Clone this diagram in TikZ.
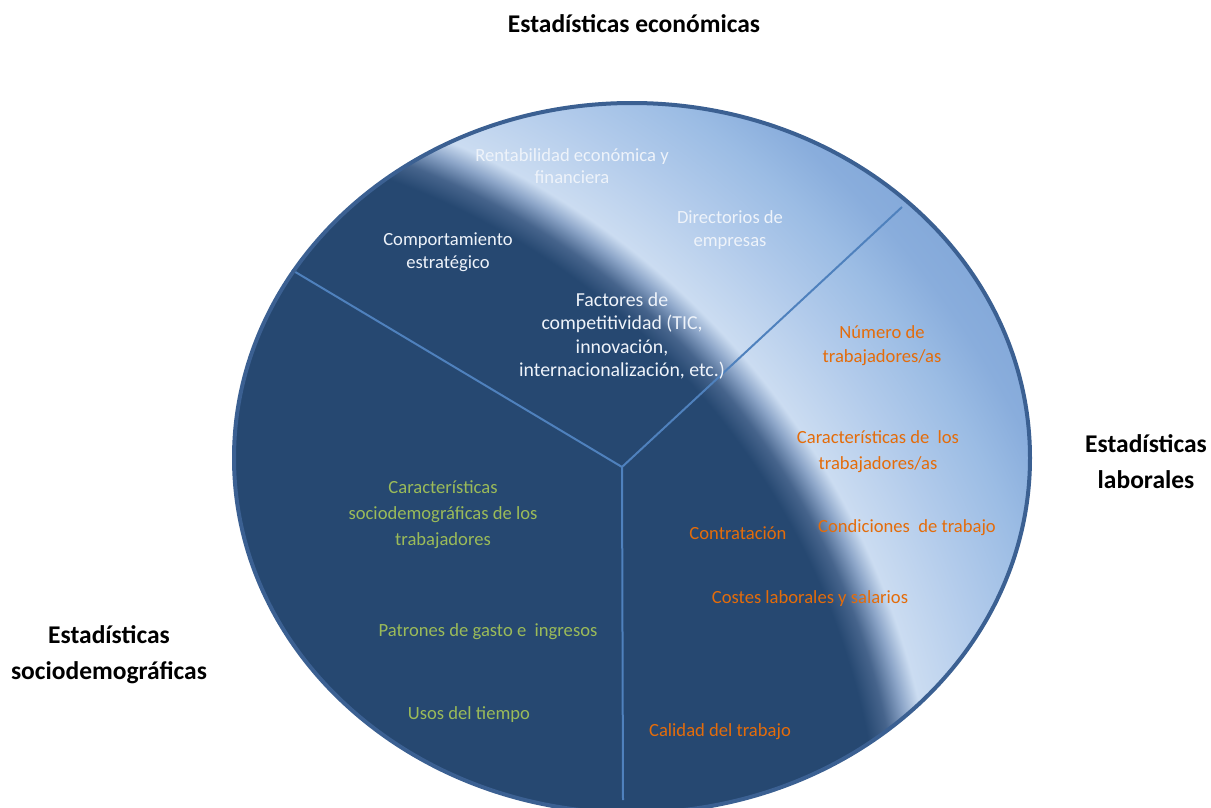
\documentclass[tikz,border=0pt]{standalone}
\usepackage{fontspec}
\setmainfont{Carlito}
\definecolor{dkblue}{RGB}{38,72,113}
\definecolor{midA}{RGB}{70,100,140}
\definecolor{midB}{RGB}{140,165,200}
\definecolor{ltblue}{RGB}{203,220,241}
\definecolor{ltB}{RGB}{178,203,235}
\definecolor{ltC}{RGB}{155,188,228}
\definecolor{ltD}{RGB}{137,173,220}
\definecolor{ltE}{RGB}{127,165,215}
\definecolor{rimblue}{RGB}{59,96,146}
\definecolor{divblue}{RGB}{79,129,189}
\definecolor{txtwhite}{RGB}{238,243,250}
\definecolor{txtorange}{RGB}{228,108,10}
\definecolor{txtgreen}{RGB}{155,187,89}
\pgfdeclareradialshading{bandshade}{\pgfpoint{0bp}{0bp}}{%
color(0bp)=(dkblue); color(16.30bp)=(dkblue); color(16.74bp)=(midA);
color(17.17bp)=(midB); color(17.55bp)=(ltblue); color(19.13bp)=(ltB);
color(20.65bp)=(ltC); color(21.74bp)=(ltD); color(23.5bp)=(ltE); color(50bp)=(ltE)}
\tikzset{
  lbl/.style={font=\fontsize{18.6}{23.5}\selectfont, align=center, inner sep=0pt},
  wt/.style={lbl, text=txtwhite},
  org/.style={lbl, text=txtorange},
  grn/.style={lbl, text=txtgreen},
  ttl/.style={font=\bfseries\fontsize{25.5}{36}\selectfont, align=center, inner sep=0pt, text=black},
  divider/.style={draw=divblue, line width=2pt},
  rim/.style={draw=rimblue, line width=4pt}
}
\begin{document}
\begin{tikzpicture}[x=1pt,y=-1pt]
\useasboundingbox (0,0) rectangle (1211,808);
\begin{scope}
  \clip (632,458) ellipse [x radius=398, y radius=355];
  \fill[dkblue] (632,458) ellipse [x radius=398, y radius=355];
  \shade[shading=bandshade] (132,884) circle (1150);
\end{scope}
\coordinate (hub) at (622,467);
\coordinate (ul) at (292,270);
\coordinate (ur) at (902,207);
\coordinate (bt) at (623,800);
\draw[divider] (hub) -- (ul);
\draw[divider] (hub) -- (ur);
\draw[divider] (hub) -- (bt);
\draw[rim] (632,458) ellipse [x radius=398, y radius=355];

\node[ttl] (teco) at (634,24) {Estadísticas económicas};
\node[ttl] (tlab) at (1146,462) {Estadísticas\\laborales};
\node[ttl] (tsoc) at (109,655) {Estadísticas\\sociodemográficas};

\node[wt, font=\fontsize{18.6}{22}\selectfont] (rent) at (572,166) {Rentabilidad económica y\\financiera};
\node[wt] (dir) at (730,230) {Directorios de\\empresas};
\node[wt] (comp) at (448,252) {Comportamiento\\estratégico};
\node[wt, font=\fontsize{19.8}{23.3}\selectfont] (fact) at (622,336) {Factores de\\competitividad (TIC,\\innovación,\\internacionalización, etc.)};

\node[org] (num) at (882,345.5) {Número de\\trabajadores/as};
\node[org, font=\fontsize{18.6}{26}\selectfont] (carl) at (878,452) {Características de\ \ los\\trabajadores/as};
\node[org] (contr) at (738,533) {Contratación};
\node[org] (cond) at (907,528) {Condiciones\ \ de trabajo};
\node[org] (cost) at (810,599) {Costes laborales y salarios};
\node[org] (cal) at (720,732) {Calidad del trabajo};

\node[grn, font=\fontsize{18.6}{26}\selectfont] (cars) at (443,515) {Características\\sociodemográficas de los\\trabajadores};
\node[grn] (pat) at (488,632) {Patrones de gasto e\ \ ingresos};
\node[grn] (usos) at (469,715) {Usos del tiempo};
\end{tikzpicture}
\end{document}
